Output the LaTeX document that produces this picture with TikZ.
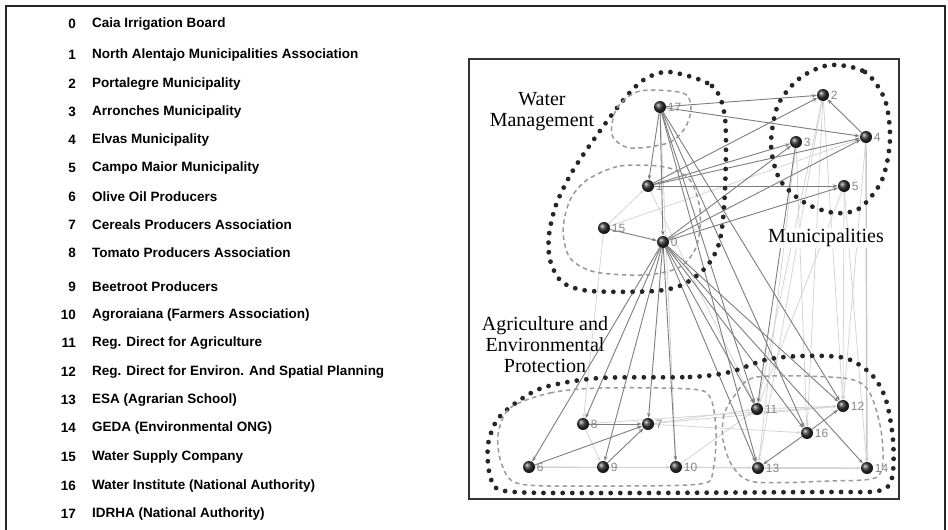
\documentclass[tikz,border=0pt]{standalone}
\usepackage{fontspec}
\setmainfont{Liberation Serif}
\setsansfont{Liberation Sans}
\usetikzlibrary{arrows.meta}
\pgfdeclarelayer{background}
\pgfsetlayers{background,main}
\definecolor{linkdark}{RGB}{125,125,125}
\definecolor{linklight}{RGB}{212,212,212}
\definecolor{actorgrey}{RGB}{135,135,135}
\tikzset{
  actorball/.style={circle,inner sep=0pt,minimum size=12pt,shading=ball,ball color=black!80},
  actornum/.style={font=\sffamily\fontsize{12}{12}\selectfont,text=actorgrey,inner sep=1.5pt},
  tielink/.style={linkdark,line width=0.9pt,-{Stealth[length=5pt,width=3.5pt]}},
  weaklink/.style={linklight,line width=0.8pt,-{Stealth[length=4pt,width=3pt]}},
  groupline/.style={black!85,line width=4.8pt,dash pattern=on 0pt off 9.6pt,line cap=round},
  subgroup/.style={gray!80,line width=1.5pt,dash pattern=on 4.5pt off 3.5pt},
  grouplbl/.style={font=\fontsize{20}{21}\selectfont,align=center,inner sep=1pt},
  listnum/.style={font=\sffamily\bfseries\fontsize{13.5}{13.5}\selectfont,anchor=east,inner sep=0pt},
  listitem/.style={font=\sffamily\bfseries\fontsize{13.5}{13.5}\selectfont,anchor=west,inner sep=0pt},
}
\newcommand{\actor}[3]{%
  \node[actorball,label={[actornum]right:#1}] (n#1) at (#2,#3) {};
}

\begin{document}
\begin{tikzpicture}[x=1pt,y=-1pt]
  \useasboundingbox (0,0) rectangle (948,530);
  \draw[black!85,line width=1.4pt] (6,530) -- (6,6) -- (945,6) -- (945,530);

  % list of actors
  \foreach \i/\y/\txt in {0/24/Caia Irrigation Board,
      1/55/North Alentajo Municipalities Association,
      2/84/Portalegre Municipality, 3/112/Arronches Municipality,
      4/140/Elvas Municipality, 5/168/Campo Maior Municipality,
      6/197/Olive Oil Producers, 7/225/Cereals Producers Association,
      8/253/Tomato Producers Association, 9/287/Beetroot Producers,
      10/315/Agroraiana (Farmers Association),
      11/343/Reg. Direct for Agriculture,
      12/372/Reg. Direct for Environ. And Spatial Planning,
      13/400/ESA (Agrarian School), 14/428/GEDA (Environmental ONG),
      15/457/Water Supply Company,
      16/486/Water Institute (National Authority),
      17/514/IDRHA (National Authority)}
  {
    \node[listnum] (num\i) at (76,\y) {\i};
    \node[listitem] (item\i) at (92,\y) {\txt};
  }

  \draw[black!80,line width=1.1pt] (469,59) rectangle (899,499);

  % actors
  \actor{17}{660}{107}
  \actor{1}{648}{186}
  \actor{15}{604}{228}
  \actor{0}{663}{242}
  \actor{2}{823}{95}
  \actor{3}{796}{142}
  \actor{4}{866}{137}
  \actor{5}{844}{186}
  \actor{8}{583}{424}
  \actor{7}{648}{424}
  \actor{6}{529}{467}
  \actor{9}{603}{467}
  \actor{10}{676}{467}
  \actor{11}{757}{409}
  \actor{12}{843}{406}
  \actor{16}{807}{433}
  \actor{13}{758}{468}
  \actor{14}{867}{468}

  \begin{pgfonlayer}{background}
    \foreach \a/\b in {15/4,15/1,15/8,2/11,2/13,2/16,2/12,3/16,3/13,5/12,
        5/11,4/12,7/11,7/12,7/16,10/11,6/10,9/10,8/9,6/14,11/12,13/14,
        6/13,8/12,10/14,1/11,17/10,5/14}
      \draw[weaklink] (n\a) -- (n\b);
    \draw[weaklink,gray!45,line width=1.4pt] (n4) -- (n14);
    \foreach \a/\b in {17/1,17/0,17/2,17/11,17/16,17/12,17/13,17/4,
        1/2,1/3,1/4,1/5,0/3,0/4,0/5,15/0,0/8,0/6,0/9,0/7,0/10,0/11,
        0/16,0/12,0/13,0/14,8/7,6/7,9/7,16/13,16/12,3/11,4/2}
      \draw[tielink] (n\a) -- (n\b);

    % groups
    \draw[groupline] plot[smooth cycle] coordinates {(670,72) (712,86)
      (725,118) (725,190) (720,240) (707,266) (684,284) (655,291) (590,291)
      (562,282) (550,260) (549,235) (556,205) (572,172) (597,135) (625,98)
      (645,79)};
    \draw[subgroup] plot[smooth cycle] coordinates {(640,91) (683,93)
      (691,108) (685,128) (668,143) (630,148) (612,135) (617,108)};
    \draw[subgroup] plot[smooth cycle] coordinates {(587,180) (620,166)
      (665,167) (690,180) (700,210) (697,245) (680,267) (645,275) (595,272)
      (570,258) (563,230) (570,200)};
    \draw[groupline] plot[smooth cycle] coordinates {(830,65) (865,72)
      (885,100) (890,140) (882,180) (860,208) (835,213) (805,203) (780,180)
      (771,145) (778,105) (800,78)};
    \draw[groupline] plot[smooth cycle] coordinates {(600,378) (690,377)
      (730,372) (765,360) (800,356) (845,358) (872,375) (886,400) (893,440)
      (892,478) (878,491) (820,492) (600,493) (505,491) (490,475) (488,445)
      (497,420) (517,402) (545,387)};
    \draw[subgroup] plot[smooth cycle] coordinates {(510,408) (550,393)
      (600,388) (690,389) (710,397) (716,430) (713,470) (700,484) (600,486)
      (520,484) (502,465) (498,435)};
    \draw[subgroup] plot[smooth cycle] coordinates {(757,377) (843,378)
      (868,390) (880,425) (883,460) (875,478) (830,481) (755,482) (733,467)
      (723,440) (724,415) (735,395)};
  \end{pgfonlayer}

  \node[grouplbl] (watlbl) at (542,112) {Water\\Management};
  \node[grouplbl,fill=white] (munlbl) at (826,238) {Municipalities};
  \node[grouplbl] (agrlbl) at (545,345) {Agriculture and\\Environmental\\Protection};
\end{tikzpicture}
\end{document}
